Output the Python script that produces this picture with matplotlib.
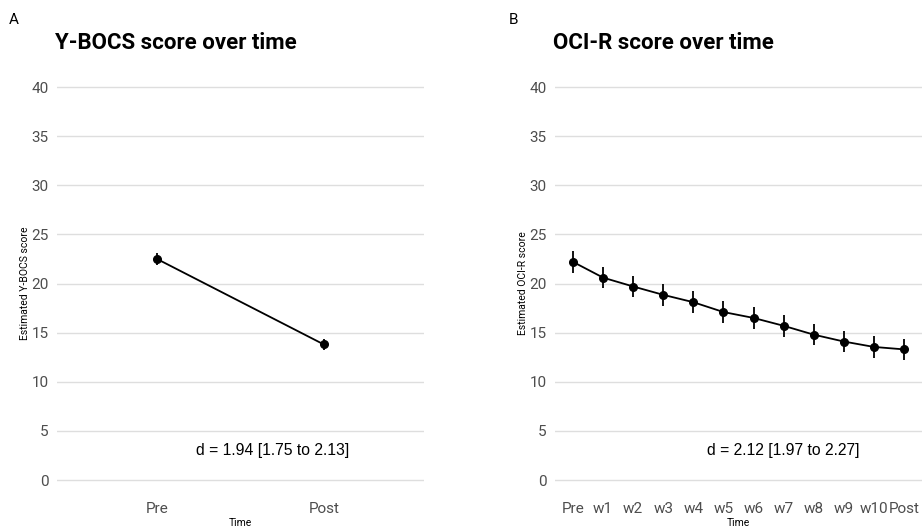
import matplotlib.pyplot as plt

plt.rcParams['font.family'] = ['Roboto', 'DejaVu Sans']

# Y-BOCS
ybocs_time = ["Pre", "Post"]
ybocs_est = [22.5, 13.8]
ybocs_err = [0.57, 0.6]

# OCI-R
ocir_time = ["Pre", "w1", "w2", "w3", "w4", "w5", "w6", "w7", "w8", "w9", "w10", "Post"]
ocir_est = [22.2, 20.6, 19.7, 18.85, 18.1, 17.1, 16.5, 15.7, 14.8, 14.1, 13.55, 13.3]
ocir_err = [1.1, 1.1, 1.1, 1.1, 1.1, 1.1, 1.1, 1.1, 1.1, 1.1, 1.1, 1.1]

yticks = [0, 5, 10, 15, 20, 25, 30, 35, 40]

fig = plt.figure(figsize=(9.22, 5.32), dpi=100)
ax1 = fig.add_axes([0.0618, 0.0607, 0.398, 0.8126])
ax2 = fig.add_axes([0.602, 0.0607, 0.398, 0.8126])


def panel(ax, cats, est, err, title, ylab, dtext, dx, tag, tagx):
    x = list(range(1, len(cats) + 1))
    ax.plot(x, est, color='black', lw=1.3, zorder=3)
    ax.errorbar(x, est, yerr=err, fmt='o', color='black', ms=5.5,
                elinewidth=1.3, capsize=0, zorder=4)
    ax.set_xlim(0.4, len(cats) + 0.6)
    ax.set_ylim(-2, 42)
    ax.set_xticks(x)
    ax.set_xticklabels(cats)
    ax.set_yticks(yticks)
    ax.grid(axis='y', color='#dedede', lw=1)
    ax.set_axisbelow(True)
    for s in ax.spines.values():
        s.set_visible(False)
    ax.tick_params(axis='y', length=0, labelsize=11, labelcolor='#4d4d4d', pad=6)
    ax.tick_params(axis='x', length=0, labelsize=11, labelcolor='#4d4d4d', pad=2)
    ax.set_ylabel(ylab, fontsize=7.5, labelpad=1)
    ax.set_xlabel("Time", fontsize=7.5, labelpad=1)
    ax.text(dx, 3, dtext, ha='center', va='center', fontsize=11.3,
            family=['Liberation Sans', 'DejaVu Sans'])
    ax.set_title(title, loc='left', fontsize=16, fontweight='bold', pad=13,
                 x=-0.005)
    fig.text(tagx, 0.962, tag, fontsize=11, va='center')


panel(ax1, ybocs_time, ybocs_est, ybocs_err, "Y-BOCS score over time",
      "Estimated Y-BOCS score", "d = 1.94 [1.75 to 2.13]", 1.69, "A", 0.01)
panel(ax2, ocir_time, ocir_est, ocir_err, "OCI-R score over time",
      "Estimated OCI-R score", "d = 2.12 [1.97 to 2.27]", 8.0, "B", 0.552)

fig.savefig("out.png", dpi=100)
